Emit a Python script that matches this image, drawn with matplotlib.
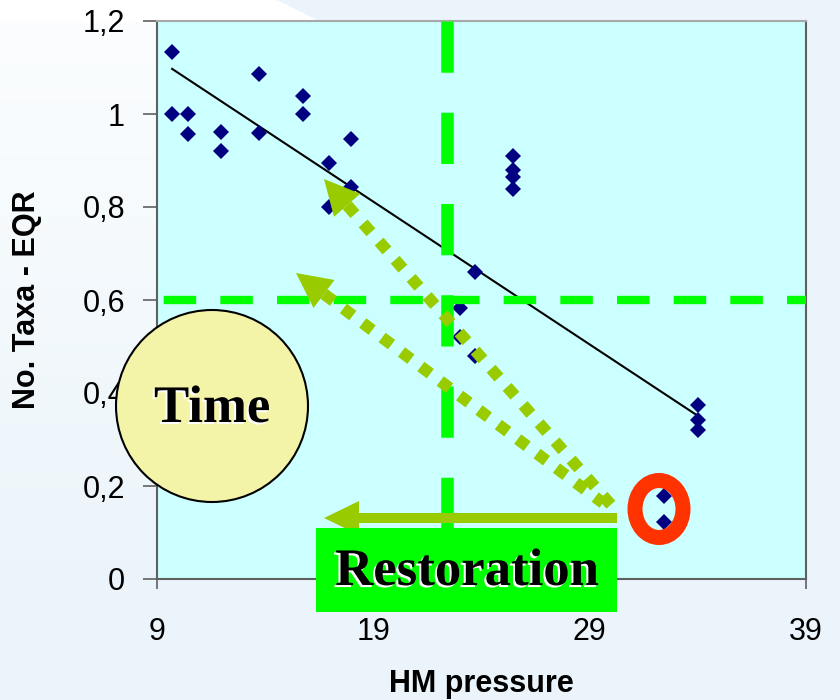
import numpy as np
import matplotlib.pyplot as plt
from matplotlib.patches import Ellipse, Rectangle, Polygon
import matplotlib.patheffects as pe

# data
hm_pressure = [9.7, 9.7, 10.45, 10.45, 11.95, 11.95, 13.7, 13.7, 15.75, 15.75,
               16.95, 16.95, 17.95, 17.95, 23.0, 23.0, 23.7, 23.7,
               25.45, 25.45, 25.45, 25.45, 32.45, 32.45, 34.0, 34.0, 34.0]
taxa_eqr = [1.133, 1.0, 1.0, 0.957, 0.962, 0.921, 1.086, 0.96, 1.039, 1.0,
            0.895, 0.80, 0.946, 0.844, 0.583, 0.521, 0.661, 0.48,
            0.91, 0.88, 0.865, 0.839, 0.179, 0.123, 0.374, 0.342, 0.32]
x_ticks = [9, 19, 29, 39]
y_ticks = [0, 0.2, 0.4, 0.6, 0.8, 1.0, 1.2]
y_tick_labels = ["0", "0,2", "0,4", "0,6", "0,8", "1", "1,2"]
hm_limit = 22.42
eqr_limit = 0.6

W, H = 840, 700
fig = plt.figure(figsize=(W / 100, H / 100), dpi=100)

# slide background: pale blue, white corner top-left
yy, xx = np.mgrid[0:H, 0:W]
base = np.array([234, 244, 250]) / 255.0
f_top = ((xx < 277 + 2.05 * yy) & (yy < 22)).astype(float)
f_left = np.where(xx < 160, np.clip(1 - yy / 620.0, 0, 1) * 0.85, 0)
f = np.maximum(f_top, f_left)[..., None]
bg_img = base + (1 - base) * f
bg = fig.add_axes([0, 0, 1, 1], zorder=-10)
bg.imshow(bg_img, aspect='auto', extent=(0, W, H, 0))
bg.axis('off')

ax = fig.add_axes([157 / W, 121 / H, 649 / W, 558 / H])
ax.set_facecolor('#CCFFFF')
ax.set_xlim(9, 39)
ax.set_ylim(0, 1.2)

ax.plot(hm_pressure, taxa_eqr, 'D', color='#000080', ms=8.5, mew=0, zorder=3)

# linear trend
coef = np.polyfit(hm_pressure, taxa_eqr, 1)
xs = np.array([min(hm_pressure), max(hm_pressure)])
ax.plot(xs, np.polyval(coef, xs), color='black', lw=1.5, zorder=2)

# threshold lines
ax.plot([hm_limit, hm_limit], [1.2, 0], color='#00FF00', lw=9,
        linestyle=(0, (4.1, 3.2)), dash_capstyle='butt', zorder=4)
ax.plot([9, 39], [eqr_limit, eqr_limit], color='#00FF00', lw=6,
        linestyle=(6.0, (3.9, 2.9)), dash_capstyle='butt', zorder=4)

ax.set_xticks(x_ticks)
ax.set_yticks(y_ticks)
ax.set_yticklabels(y_tick_labels)
ax.tick_params(axis='y', length=10, width=1.2, color='#606060', pad=13,
               labelsize=22)
ax.tick_params(axis='x', length=7, width=1.2, color='#606060', pad=20,
               labelsize=22)
for lab in ax.get_xticklabels() + ax.get_yticklabels():
    lab.set_family('Liberation Sans')
for s in ['left', 'bottom', 'right']:
    ax.spines[s].set_color('#606060')
    ax.spines[s].set_linewidth(1.5)
ax.spines['top'].set_color('#A8A8A8')
ax.spines['top'].set_linewidth(1.5)

ax.set_xlabel('HM pressure', fontsize=22, fontweight='bold', family='Liberation Sans')
ax.set_ylabel('No. Taxa - EQR', fontsize=22, fontweight='bold', family='Liberation Sans')
ax.xaxis.set_label_coords(0.5, -0.162)
ax.yaxis.set_label_coords(-0.177, 0.5)

# slide decorations, in pixel coordinates
ov = fig.add_axes([0, 0, 1, 1], zorder=5)
ov.set_xlim(0, W)
ov.set_ylim(H, 0)
ov.axis('off')
ov.patch.set_alpha(0)

arrow_col = '#99CC00'


def dotted_arrow(tip, tail, head_len=35, head_w=35):
    tip = np.array(tip, float)
    tail = np.array(tail, float)
    d = (tail - tip) / np.linalg.norm(tail - tip)
    n = np.array([-d[1], d[0]])
    base_c = tip + d * head_len
    ov.plot([base_c[0], tail[0]], [base_c[1], tail[1]], color=arrow_col, lw=8.5,
            linestyle=(0, (1, 1.05)), dash_capstyle='butt', zorder=2)
    ov.add_patch(Polygon([tip, base_c + n * head_w / 2, base_c - n * head_w / 2],
                         closed=True, facecolor=arrow_col, edgecolor='none', zorder=2))


dotted_arrow((324, 179), (612, 506))
dotted_arrow((296, 273), (603, 503))

# solid restoration arrow
ov.add_patch(Rectangle((357, 513), 260, 10, facecolor=arrow_col, edgecolor='none', zorder=3))
ov.add_patch(Polygon([(324, 518), (359, 501), (359, 535)], closed=True,
                     facecolor=arrow_col, edgecolor='none', zorder=3))

shadow = [pe.SimplePatchShadow(offset=(-1.5, -1.5), shadow_rgbFace='white', alpha=1),
          pe.Normal()]

ov.add_patch(Rectangle((316, 528), 301, 84, facecolor='#00FF00', edgecolor='none', zorder=4))
ov.text(467, 572, 'Restoration', fontsize=38, fontweight='bold', family='Liberation Serif',
        ha='center', va='center', zorder=5, path_effects=shadow)

ov.add_patch(Ellipse((659, 509), 48, 57, facecolor='none', edgecolor='#FF3300',
                     lw=10.8, zorder=4))

ov.add_patch(Ellipse((212, 406), 192, 192, facecolor='#F4F4A8', edgecolor='black',
                     lw=1.5, zorder=6))
ov.text(212, 409, 'Time', fontsize=38, fontweight='bold', family='Liberation Serif',
        ha='center', va='center', zorder=7, path_effects=shadow)

fig.savefig('out.png', dpi=100)
